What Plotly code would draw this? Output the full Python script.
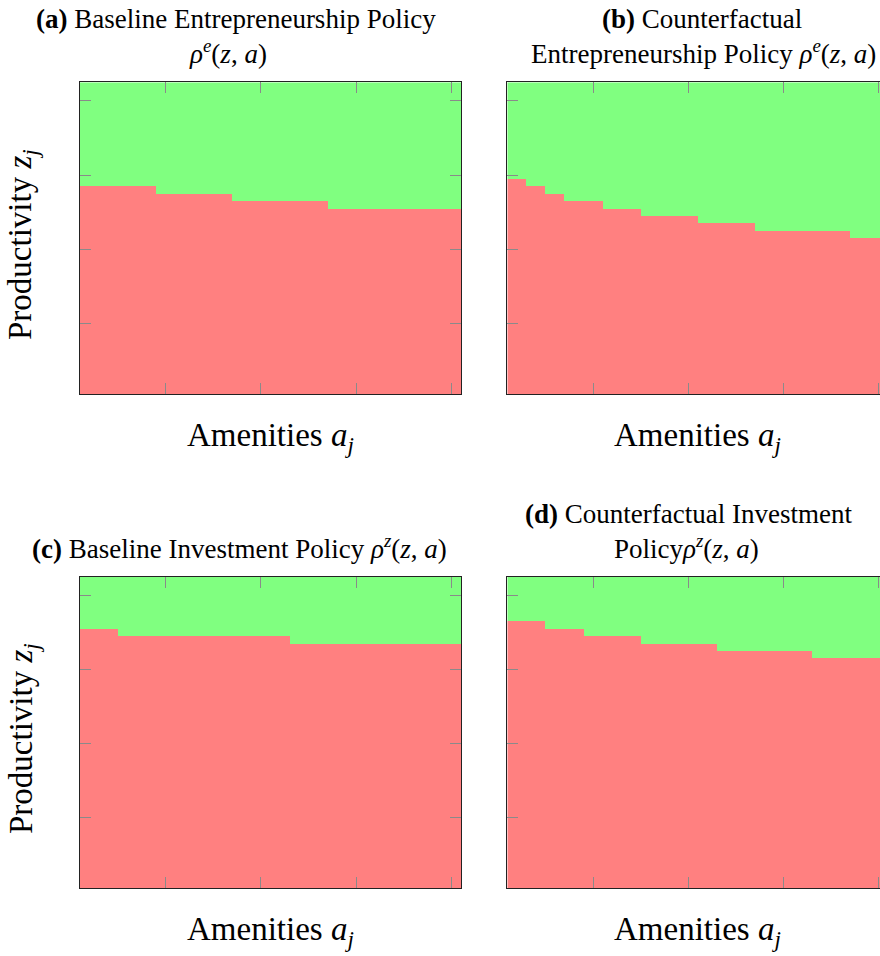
import plotly.graph_objects as go

# Grids (index form) for amenities a_j and productivity z_j
amenity = list(range(1, 21))
productivity = list(range(1, 43))
tick_a = [5, 10, 15, 20]
tick_z = [10, 20, 30, 40]

# Number of productivity grid points where the policy is 0, per amenity point
cut_base_entry = [28, 28, 28, 28, 27, 27, 27, 27, 26, 26, 26, 26, 26, 25, 25, 25, 25, 25, 25, 25]
cut_cf_entry = [29, 28, 27, 26, 26, 25, 25, 24, 24, 24, 23, 23, 23, 22, 22, 22, 22, 22, 21, 21]
cut_base_inv = [35, 35, 34, 34, 34, 34, 34, 34, 34, 34, 34, 33, 33, 33, 33, 33, 33, 33, 33, 33]
cut_cf_inv = [36, 36, 35, 35, 34, 34, 34, 33, 33, 33, 33, 32, 32, 32, 32, 32, 31, 31, 31, 31]

RED = "#FF8080"
GREEN = "#80FF80"
FONT = "Liberation Serif"
W, H = 880, 956


def policy(cut):
    return [[1 if z > cut[j] else 0 for j in range(len(amenity))] for z in productivity]


def px_x(v):
    return v / W


def px_y(v):
    return 1 - v / H


fig = go.Figure()

panels = [
    (cut_base_entry, "x", "y"),
    (cut_cf_entry, "x2", "y2"),
    (cut_base_inv, "x3", "y3"),
    (cut_cf_inv, "x4", "y4"),
]
for cut, xa, ya in panels:
    fig.add_trace(go.Heatmap(
        x=amenity, y=productivity, z=policy(cut),
        colorscale=[[0, RED], [1, GREEN]], zmin=0, zmax=1,
        showscale=False, hoverinfo="skip", xaxis=xa, yaxis=ya,
    ))

left_dom = [px_x(80), px_x(461)]
right_dom = [px_x(507.3), 1.0]
top_dom = [px_y(394), px_y(82.3)]
bot_dom = [px_y(888.3), px_y(577)]

# right column is cut at the page edge
right_span = 20 * (W - 507.3) / 381.0

axis_common = dict(
    showgrid=False, zeroline=False, showticklabels=False,
    ticks="inside", ticklen=11, tickcolor="#8a8a8a", tickwidth=1,
    showline=True, linecolor="#222222", linewidth=1.2,
)


def xaxis(dom, anchor, span):
    return dict(domain=dom, anchor=anchor, range=[0.5, 0.5 + span],
                tickvals=tick_a, mirror="ticks", **axis_common)


def yaxis(dom, anchor, mirror):
    return dict(domain=dom, anchor=anchor, range=[0.5, 42.5],
                tickvals=tick_z, mirror=mirror, **axis_common)


fig.update_layout(
    width=W, height=H,
    margin=dict(l=0, r=0, t=0, b=0),
    paper_bgcolor="white", plot_bgcolor="white",
    showlegend=False,
    xaxis=xaxis(left_dom, "y", 20),
    yaxis=yaxis(top_dom, "x", "ticks"),
    xaxis2=xaxis(right_dom, "y2", right_span),
    yaxis2=yaxis(top_dom, "x2", True),
    xaxis3=xaxis(left_dom, "y3", 20),
    yaxis3=yaxis(bot_dom, "x3", "ticks"),
    xaxis4=xaxis(right_dom, "y4", right_span),
    yaxis4=yaxis(bot_dom, "x4", True),
)

anns = []


def label(text, x, y, size, angle=0):
    anns.append(dict(
        text=text, x=px_x(x), y=px_y(y), xref="paper", yref="paper",
        xanchor="center", yanchor="middle", showarrow=False, textangle=angle,
        font=dict(family=FONT, size=size, color="black"),
    ))


rho_e = "<i>ρ</i><sup><i>e</i></sup>(<i>z</i>, <i>a</i>)"
rho_z = "<i>ρ</i><sup><i>z</i></sup>(<i>z</i>, <i>a</i>)"
TS = 27

# panel captions
label("<b>(a)</b> Baseline Entrepreneurship Policy", 236, 19, TS)
label(rho_e, 228, 52, TS)
label("<b>(b)</b> Counterfactual", 702, 19, TS)
label("Entrepreneurship Policy " + rho_e, 703, 52, TS)
label("<b>(c)</b> Baseline Investment Policy " + rho_z, 240, 547, TS)
label("<b>(d)</b> Counterfactual Investment", 688, 514, TS)
label("Policy" + rho_z, 686, 547, TS)

# axis titles
AS = 33
xlab = "Amenities <i>a</i><sub><i>j</i></sub>"
ylab = "Productivity <i>z</i><sub><i>j</i></sub>"
for cx, cy in [(270, 437), (697, 437), (270, 931), (697, 931)]:
    label(xlab, cx, cy, AS)
for cy in [245, 739]:
    label(ylab, 23, cy, AS, -90)

fig.update_layout(annotations=anns)
fig.write_html("out.html")
